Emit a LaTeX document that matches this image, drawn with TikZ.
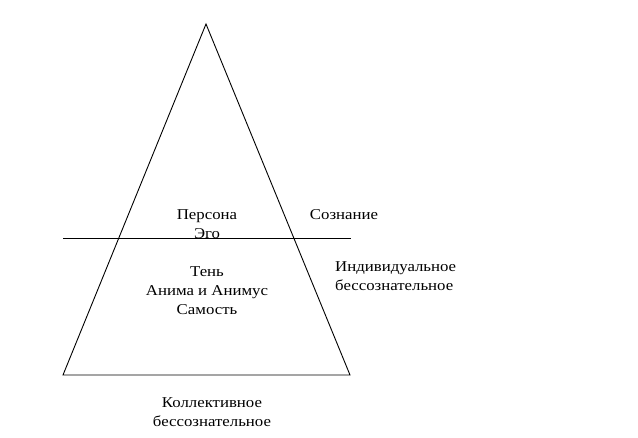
\documentclass[tikz,border=0pt]{standalone}
\usepackage{fontspec}
\setmainfont{Liberation Serif}[FakeStretch=1.12]
\begin{document}
\begin{tikzpicture}[x=1pt,y=-1pt,
  lbl/.style={inner sep=0pt,font=\fontsize{15}{19}\selectfont,align=center},
  lbll/.style={inner sep=0pt,font=\fontsize{15}{19}\selectfont,align=left,anchor=west},
  edge/.style={draw=black,line width=0.9pt}]
\useasboundingbox (0,0) rectangle (638,438);
\coordinate (apex) at (206,24);
\coordinate (bl) at (63,375);
\coordinate (br) at (350,375);
\coordinate (hl) at (63,238);
\coordinate (hr) at (351,238);
\draw[edge] (bl) -- (apex) -- (br) -- cycle;
\draw[edge] (hl) -- (hr);
\node[lbl] (persona) at (207,224) {Персона\\Эго};
\node[lbl] (soz) at (344,215) {Сознание};
\node[lbll] (ind) at (335,276) {Индивидуальное\\бессознательное};
\node[lbl] (ten) at (207,291) {Тень\\Анима и Анимус\\Самость};
\node[lbl] (koll) at (212,412) {Коллективное\\бессознательное};
\end{tikzpicture}
\end{document}
